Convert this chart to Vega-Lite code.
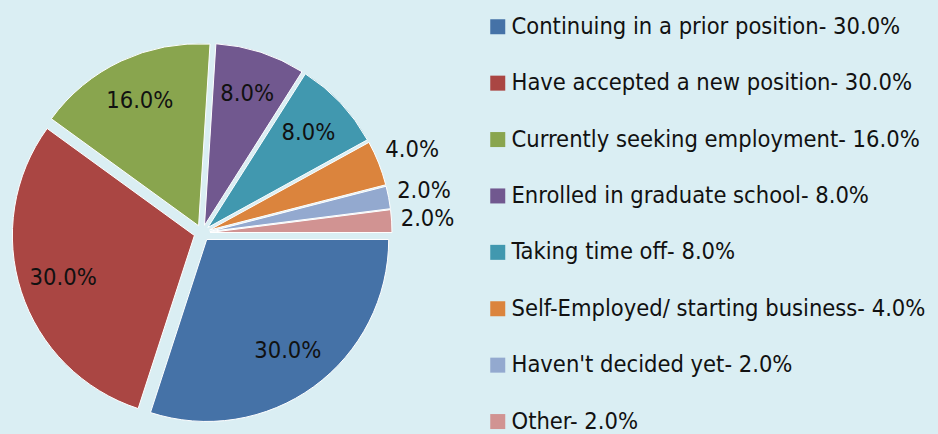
{
  "$schema": "https://vega.github.io/schema/vega-lite/v6.json",
  "width": 404,
  "height": 402,
  "autosize": {"type": "none"},
  "padding": {"left": 0, "top": 32, "right": 534, "bottom": 0},
  "background": "#DAEEF3",
  "config": {"view": {"stroke": null}},
  "data": {
    "values": [
      {"category": "Continuing in a prior position- 30.0%", "pct": 30, "label": "30.0%", "order": 1},
      {"category": "Have accepted a new position- 30.0%", "pct": 30, "label": "30.0%", "order": 2},
      {"category": "Currently seeking employment- 16.0%", "pct": 16, "label": "16.0%", "order": 3},
      {"category": "Enrolled in graduate school- 8.0%", "pct": 8, "label": "8.0%", "order": 4},
      {"category": "Taking time off- 8.0%", "pct": 8, "label": "8.0%", "order": 5},
      {"category": "Self-Employed/ starting business- 4.0%", "pct": 4, "label": "4.0%", "order": 6},
      {"category": "Haven't decided yet- 2.0%", "pct": 2, "label": "2.0%", "order": 7},
      {"category": "Other- 2.0%", "pct": 2, "label": "2.0%", "order": 8}
    ]
  },
  "encoding": {
    "theta": {"field": "pct", "type": "quantitative", "stack": true, "scale": {"range": [1.5707963, 7.8539816]}},
    "order": {"field": "order", "type": "quantitative"}
  },
  "layer": [
    {
      "mark": {
        "type": "arc",
        "outerRadius": 182,
        "stroke": "white",
        "strokeWidth": 1,
        "xOffset": {"expr": "8*sin(scale('theta',(datum.pct_start+datum.pct_end)/2))"},
        "yOffset": {"expr": "-8*cos(scale('theta',(datum.pct_start+datum.pct_end)/2))"}
      },
      "encoding": {
        "color": {
          "field": "category",
          "type": "nominal",
          "sort": null,
          "scale": {
            "domain": [
              "Continuing in a prior position- 30.0%",
              "Have accepted a new position- 30.0%",
              "Currently seeking employment- 16.0%",
              "Enrolled in graduate school- 8.0%",
              "Taking time off- 8.0%",
              "Self-Employed/ starting business- 4.0%",
              "Haven't decided yet- 2.0%",
              "Other- 2.0%"
            ],
            "range": ["#4572A7", "#AA4643", "#89A54E", "#71588F", "#4198AF", "#DB843D", "#93A9CF", "#D19392"]
          },
          "legend": {
            "title": null,
            "orient": "none",
            "legendX": 486,
            "legendY": -17,
            "symbolType": "square",
            "symbolSize": 225,
            "symbolStrokeWidth": 0,
            "labelFont": "DejaVu Sans Condensed, Liberation Sans Narrow, sans-serif",
            "labelFontSize": 23.5,
            "labelColor": "#111111",
            "labelOffset": 2,
            "labelLimit": 0,
            "rowPadding": 31.4
          }
        }
      }
    },
    {
      "mark": {
        "type": "text",
        "radius": 146,
        "font": "DejaVu Sans Condensed, Liberation Sans Narrow, sans-serif",
        "fontSize": 23.5,
        "color": "#111111"
      },
      "encoding": {
        "text": {"condition": {"test": "datum.pct >= 8", "field": "label"}, "value": ""}
      }
    },
    {
      "mark": {
        "type": "text",
        "radius": 226,
        "font": "DejaVu Sans Condensed, Liberation Sans Narrow, sans-serif",
        "fontSize": 23.5,
        "color": "#111111"
      },
      "encoding": {
        "text": {"condition": {"test": "datum.pct < 8", "field": "label"}, "value": ""}
      }
    }
  ]
}
